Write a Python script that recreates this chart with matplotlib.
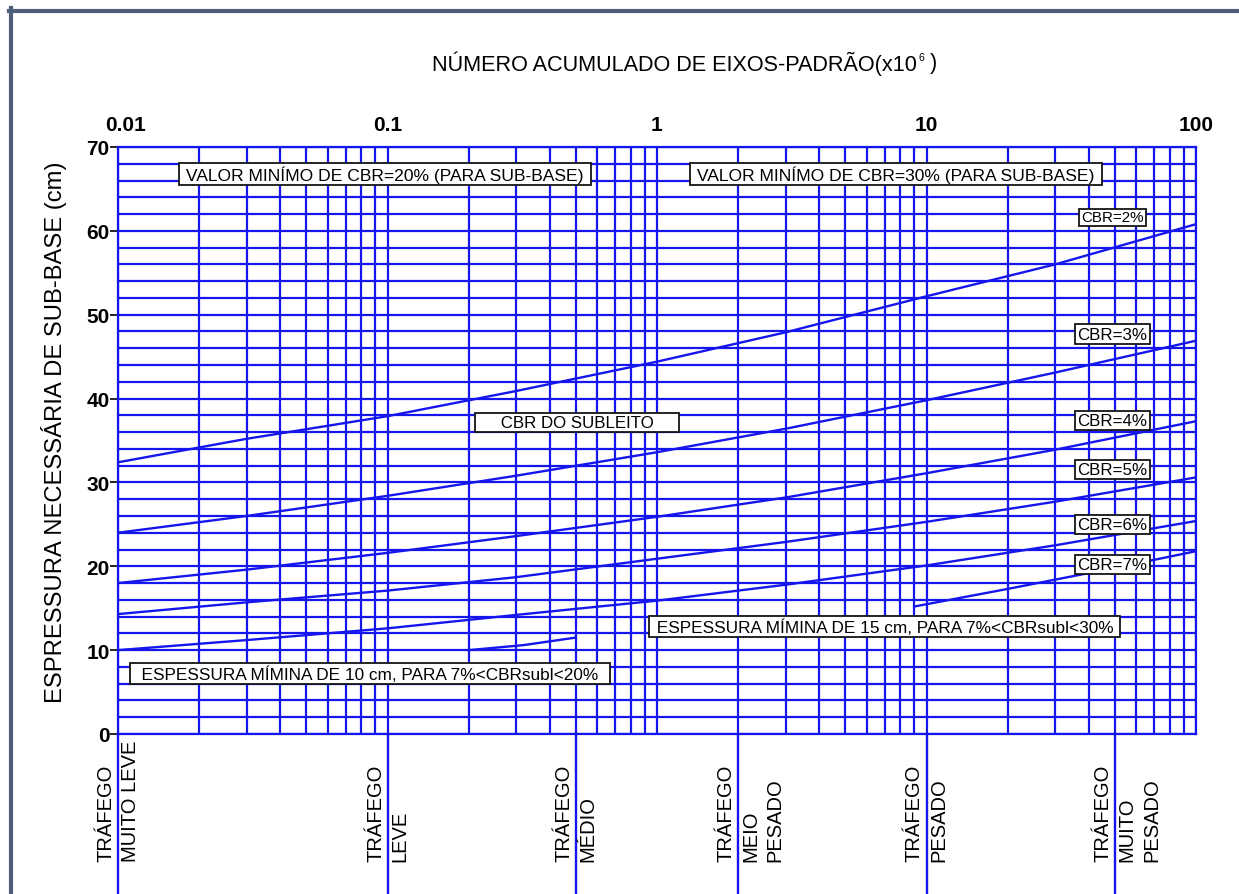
import matplotlib
matplotlib.use("Agg")
import matplotlib.pyplot as plt
import matplotlib.transforms as mtransforms
from matplotlib import font_manager
from matplotlib.lines import Line2D

# ---- chart data ----
x_ticks = [0.01, 0.1, 1, 10, 100]
x_tick_labels = ["0.01", "0.1", "1", "10", "100"]
y_ticks = [0, 10, 20, 30, 40, 50, 60, 70]

# number of standard axles (x10^6) and required sub-base thickness (cm)
n_pts = [0.01, 0.03, 0.1, 0.3, 1, 3, 10, 30, 100]
cbr2 = [32.4, 35.2, 37.9, 40.9, 44.4, 47.9, 52.2, 56.0, 60.8]
cbr3 = [24.0, 26.0, 28.4, 30.8, 33.6, 36.4, 39.8, 43.1, 46.9]
cbr4 = [18.0, 19.6, 21.6, 23.6, 25.9, 28.2, 31.1, 33.9, 37.3]
cbr5 = [14.3, 15.7, 17.1, 18.7, 20.9, 22.9, 25.3, 27.7, 30.6]
cbr6 = [10.0, 11.2, 12.6, 14.2, 15.9, 17.8, 20.1, 22.5, 25.4]

# CBR=7% is only drawn in two pieces
n_cbr7_low = [0.2, 0.32, 0.5]
cbr7_low = [10.0, 10.6, 11.5]
n_cbr7_high = [9, 20, 50, 100]
cbr7_high = [15.2, 17.3, 19.8, 21.8]

cbr_labels = ["CBR=2%", "CBR=3%", "CBR=4%", "CBR=5%", "CBR=6%", "CBR=7%"]

# traffic classes marked under the chart
traffic_n = [0.01, 0.1, 0.5, 2, 10, 50]
traffic_labels = [["TRÁFEGO", "MUITO LEVE"],
                  ["TRÁFEGO", "LEVE"],
                  ["TRÁFEGO", "MÉDIO"],
                  ["TRÁFEGO", "MEIO", "PESADO"],
                  ["TRÁFEGO", "PESADO"],
                  ["TRÁFEGO", "MUITO", "PESADO"]]

BLUE = "#1515ee"
FRAME = "#4e5d78"

names = {f.name for f in font_manager.fontManager.ttflist}
REG = "Liberation Sans"
if "Liberation Sans Narrow" in names:
    NARROW = "Liberation Sans Narrow"
    k = 1.0
else:
    NARROW = REG
    k = 0.84

W, H = 1239, 895
fig = plt.figure(figsize=(W / 100, H / 100), dpi=100)
fig.patch.set_facecolor("white")
ax = fig.add_axes([118 / W, 1 - 735 / H, 1078 / W, 587 / H])

ax.set_xscale("log")
ax.set_xlim(0.01, 100)
ax.set_ylim(0, 70)
ax.set_yticks(y_ticks)
ax.set_yticks(range(0, 71, 2), minor=True)
ax.set_yticklabels([str(v) for v in y_ticks], fontsize=15, family=REG, fontweight="bold")
ax.tick_params(axis="y", which="major", length=6, width=1.2, color="black", pad=0)
ax.tick_params(axis="y", which="minor", length=0)
ax.tick_params(axis="x", which="both", length=0, labelbottom=False, labeltop=False)
ax.grid(True, which="both", color=BLUE, lw=1.6)
for s in ax.spines.values():
    s.set_color(BLUE)
    s.set_linewidth(1.6)

# top tick labels
tr = mtransforms.blended_transform_factory(ax.transData, ax.transAxes)
for i, (xv, lab) in enumerate(zip(x_ticks, x_tick_labels)):
    off = mtransforms.ScaledTranslation(8 / 100 if i == 0 else 0, 0, fig.dpi_scale_trans)
    ax.text(xv, 1.039, lab, transform=tr + off, ha="center", va="center",
            fontsize=15, family=REG, fontweight="bold")

# design curves
for ys in [cbr2, cbr3, cbr4, cbr5, cbr6]:
    ax.plot(n_pts, ys, color=BLUE, lw=1.7, zorder=3)
ax.plot(n_cbr7_low, cbr7_low, color=BLUE, lw=1.7, zorder=3)
ax.plot(n_cbr7_high, cbr7_high, color=BLUE, lw=1.7, zorder=3)

box = dict(boxstyle="square,pad=0.12", fc="white", ec="#151515", lw=1.3)

# curve labels on the right
lab_y = [61.6, 47.7, 37.4, 31.5, 25.0, 20.2]
for i, (lab, yv) in enumerate(zip(cbr_labels, lab_y)):
    ax.text(49, yv, lab, ha="center", va="center", family=NARROW,
            fontsize=(13 if i == 0 else 14.5) * k, bbox=box, zorder=5)

ax.text(0.098, 66.8, " VALOR MINÍMO DE CBR=20% (PARA SUB-BASE) ", ha="center", va="center",
        family=NARROW, fontsize=15 * k, bbox=box, zorder=5)
ax.text(7.7, 66.8, " VALOR MINÍMO DE CBR=30% (PARA SUB-BASE) ", ha="center", va="center",
        family=NARROW, fontsize=15 * k, bbox=box, zorder=5)
ax.text(0.505, 37.2, "     CBR DO SUBLEITO     ", ha="center", va="center",
        family=NARROW, fontsize=14.5 * k, bbox=box, zorder=5)
ax.text(7.0, 12.8, " ESPESSURA MÍMINA DE 15 cm, PARA 7%<CBRsubl<30% ", ha="center", va="center",
        family=NARROW, fontsize=14.8 * k, bbox=box, zorder=5)
ax.text(0.086, 7.2, "  ESPESSURA MÍMINA DE 10 cm, PARA 7%<CBRsubl<20%  ", ha="center", va="center",
        family=NARROW, fontsize=14.8 * k, bbox=box, zorder=5)

# traffic class lines and labels below the chart
for n, lines in zip(traffic_n, traffic_labels):
    ax.plot([n, n], [0, -19], color=BLUE, lw=1.7, clip_on=False)
    for i, s in enumerate(lines):
        ax.annotate(s, xy=(n, 0), xytext=((-12 + 24.5 * i) * 0.72, -127 * 0.72),
                    textcoords="offset points", rotation=90, ha="center", va="bottom",
                    fontsize=14.5, family=REG, annotation_clip=False)

# axis titles
t = fig.text(432 / W, 1 - 64 / H, "NÚMERO ACUMULADO DE EIXOS-PADRÃO(x10", ha="left",
             va="center", fontsize=18.6 * k, family=NARROW)
ax.annotate("6", xy=(1, 1), xycoords=t, xytext=(1.5, -1), textcoords="offset points",
            ha="left", va="top", fontsize=9 * k, family=NARROW, annotation_clip=False)
ax.annotate(" )", xy=(1, 0.5), xycoords=t, xytext=(5, 0), textcoords="offset points",
            ha="left", va="center", fontsize=18.6 * k, family=NARROW, annotation_clip=False)

fig.text(54 / W, 1 - 432 / H, "ESPRESSURA NECESSÁRIA DE SUB-BASE (cm)", rotation=90,
         ha="center", va="center", fontsize=20.4 * k, family=NARROW)

# frame of the original picture
fig.add_artist(Line2D([11 / W, 11 / W], [0, 1 - 9 / H], transform=fig.transFigure,
                      color=FRAME, lw=3))
fig.add_artist(Line2D([9 / W, 1], [1 - 12 / H, 1 - 12 / H], transform=fig.transFigure,
                      color=FRAME, lw=3))

fig.savefig("out.png", dpi=100, facecolor="white")
